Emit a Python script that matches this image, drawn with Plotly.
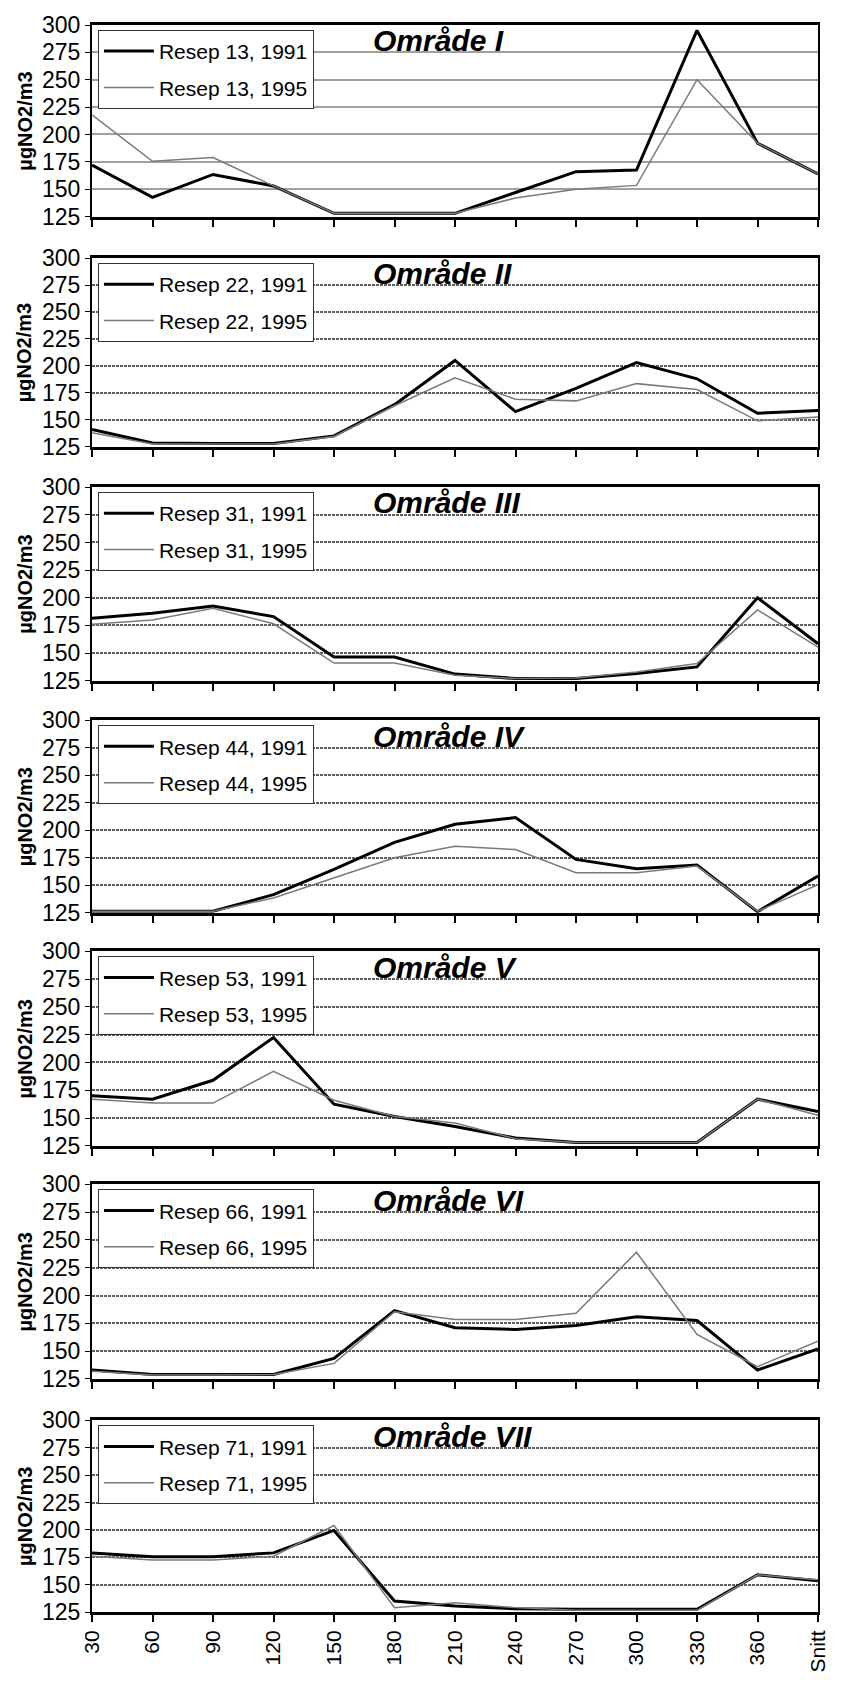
import plotly.graph_objects as go

# ---------------- data ----------------
categories = ["30", "60", "90", "120", "150", "180", "210", "240", "270", "300", "330", "360", "Snitt"]
y_ticks = [125, 150, 175, 200, 225, 250, 275, 300]

panel_titles = ["Område I", "Område II", "Område III", "Område IV", "Område V", "Område VI", "Område VII"]
recipes = ["13", "22", "31", "44", "53", "66", "71"]

omr1_1991 = [172, 142.5, 163.5, 153, 128, 128, 128, 147, 166, 167.5, 295, 192, 164]
omr1_1995 = [218, 175.5, 179, 153, 128, 128, 128, 142, 150, 153.5, 250, 192, 164]

omr2_1991 = [141, 128.5, 128, 128, 135, 164, 205, 157.5, 179, 203, 188, 156, 158.5]
omr2_1995 = [138, 127.5, 127.5, 127.5, 134.5, 163, 189, 169, 167.5, 183.5, 178, 149, 152.5]

omr3_1991 = [181.5, 186, 192.5, 183, 146.5, 146.5, 131, 127, 127, 131.5, 137.5, 200, 158.5]
omr3_1995 = [176, 180, 190.5, 176.5, 141, 141, 130, 127, 127.5, 133, 140.5, 189, 155.5]

omr4_1991 = [126.5, 126.5, 126.5, 141.5, 164.5, 189, 205.5, 211.5, 173.5, 165, 168.5, 126, 158.5]
omr4_1995 = [126.5, 126.5, 126.5, 138.5, 157, 175, 185.5, 182.5, 161.5, 161.5, 167.5, 126.5, 150.5]

omr5_1991 = [170, 167, 184, 222.5, 162.5, 151.5, 142.5, 132, 128, 128, 128, 167, 156]
omr5_1995 = [167, 163.5, 163.5, 192, 166, 151.5, 145.5, 131.5, 128, 128, 128, 167, 152.5]

omr6_1991 = [133, 129, 129, 129, 143.5, 186.5, 171, 169.5, 173, 181, 177.5, 133, 152]
omr6_1995 = [132, 128.5, 128.5, 129, 139, 185.5, 178.5, 178.5, 184, 239, 165, 136, 159]

omr7_1991 = [179, 175.5, 175.5, 179, 199.5, 135, 130.5, 128, 127.5, 127.5, 127.5, 159, 153.5]
omr7_1995 = [176, 172.5, 172.5, 176, 204, 129, 133.5, 129, 126.5, 126.5, 126.5, 159, 154.5]

series_1991 = [omr1_1991, omr2_1991, omr3_1991, omr4_1991, omr5_1991, omr6_1991, omr7_1991]
series_1995 = [omr1_1995, omr2_1995, omr3_1995, omr4_1995, omr5_1995, omr6_1995, omr7_1995]

# ---------------- layout geometry ----------------
W, H = 841, 1684
ML, MR, MT, MB = 92, 14, 22, 55
PH = H - MT - MB
PW = W - ML - MR
tops = [22, 258, 490, 726, 960, 1196, 1435]
bots = [216, 449, 686, 921, 1157, 1393, 1629]


def py(p):
    return (H - MB - p) / PH


FONT = "Arial, Liberation Sans, sans-serif"
xpos = list(range(len(categories)))

fig = go.Figure()
layout = dict(
    width=W, height=H,
    margin=dict(l=ML, r=MR, t=MT, b=MB, pad=0),
    paper_bgcolor="white", plot_bgcolor="white",
    font=dict(family=FONT, color="black", size=19),
    annotations=[],
)

for i in range(7):
    n = i + 1
    sfx = "" if n == 1 else str(n)
    leg = "legend" if n == 1 else f"legend{n}"
    fig.add_trace(go.Scatter(
        x=xpos, y=series_1991[i], mode="lines",
        name=f"Resep {recipes[i]}, 1991",
        line=dict(color="black", width=3),
        xaxis=f"x{sfx}", yaxis=f"y{sfx}", legend=leg, legendgroup=f"g{n}a",
    ))
    fig.add_trace(go.Scatter(
        x=xpos, y=series_1995[i], mode="lines",
        name=f"Resep {recipes[i]}, 1995",
        line=dict(color="#7a7a7a", width=1.5),
        xaxis=f"x{sfx}", yaxis=f"y{sfx}", legend=leg, legendgroup=f"g{n}b",
    ))
    if n == 1:
        gcol, gdash, gw = "#a0a0a0", "solid", 1.5
    else:
        gcol, gdash, gw = "#5e5e5e", "3px,1px", 2
    layout[f"xaxis{sfx}"] = dict(
        domain=[0, 1], anchor=f"y{sfx}", range=[0, 12],
        tickmode="array", tickvals=xpos, ticktext=categories,
        showticklabels=(n == 7), tickangle=-90,
        tickfont=dict(size=21, family=FONT),
        ticks="outside", ticklen=7, tickwidth=1.5, tickcolor="black",
        showline=True, linecolor="black", linewidth=3, mirror=True,
        showgrid=False, zeroline=False, fixedrange=True,
    )
    layout[f"yaxis{sfx}"] = dict(
        domain=[py(bots[i]), py(tops[i])], anchor=f"x{sfx}",
        range=[125, 300], tickmode="array", tickvals=y_ticks,
        tickfont=dict(size=23, family=FONT),
        ticks="outside", ticklen=5, tickwidth=1, tickcolor="black",
        showline=True, linecolor="black", linewidth=2, mirror=True,
        showgrid=True, gridcolor=gcol, griddash=gdash, gridwidth=gw,
        zeroline=False, fixedrange=True,
    )
    layout[leg] = dict(
        x=(98 - ML) / PW, y=py(tops[i] + 5), xref="paper", yref="paper",
        xanchor="left", yanchor="top",
        bgcolor="white", bordercolor="#333333", borderwidth=1,
        font=dict(size=21, family=FONT, color="black"),
        traceorder="grouped", tracegroupgap=6, itemwidth=50,
    )
    layout["annotations"].append(dict(
        text=f"<b><i>{panel_titles[i]}</i></b>",
        xref=f"x{sfx} domain", yref=f"y{sfx} domain",
        x=(374 - ML) / PW, y=(bots[i] - (tops[i] + 16)) / (bots[i] - tops[i]),
        xanchor="left", yanchor="middle", showarrow=False,
        font=dict(size=30, family=FONT, color="black"),
    ))
    layout["annotations"].append(dict(
        text="<b>µgNO2/m3</b>",
        xref="paper", yref=f"y{sfx} domain",
        x=(24 - ML) / PW, y=0.5, xanchor="center", yanchor="middle",
        textangle=-90, showarrow=False,
        font=dict(size=20, family=FONT, color="black"),
    ))

fig.update_layout(**layout)
fig.write_html("out.html", config={"displayModeBar": False},
               post_script="document.body.style.margin='0';")
